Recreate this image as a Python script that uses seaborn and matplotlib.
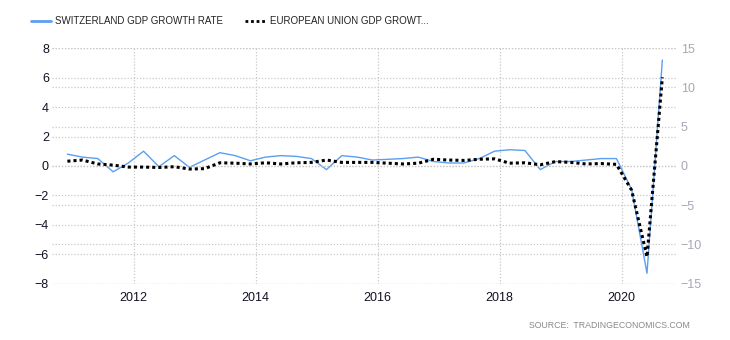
import matplotlib
matplotlib.use("Agg")
import matplotlib.pyplot as plt
import matplotlib.dates as mdates
from matplotlib.lines import Line2D
import numpy as np
import pandas as pd
import seaborn as sns

# Quarterly GDP growth, Q4 2010 .. Q3 2020
quarters = pd.period_range("2010Q4", "2020Q3", freq="Q").astype(str).tolist()
swiss_growth = [0.8, 0.6, 0.5, -0.4, 0.2, 1.0, -0.05, 0.7, -0.1, 0.4,
                0.9, 0.7, 0.35, 0.6, 0.7, 0.65, 0.5, -0.25, 0.7, 0.6,
                0.4, 0.45, 0.5, 0.6, 0.3, 0.2, 0.2, 0.5, 1.0, 1.1,
                1.05, -0.25, 0.3, 0.3, 0.4, 0.5, 0.5, -1.6, -7.3, 7.2]
eu_growth = [0.6, 0.75, 0.25, 0.1, -0.15, -0.15, -0.2, -0.1, -0.4, -0.35,
             0.4, 0.35, 0.25, 0.4, 0.25, 0.4, 0.45, 0.75, 0.45, 0.45,
             0.45, 0.35, 0.25, 0.35, 0.85, 0.75, 0.7, 0.85, 0.9, 0.35,
             0.4, 0.15, 0.55, 0.45, 0.25, 0.3, 0.2, -3.1, -11.6, 11.3]
left_ticks = [-8, -6, -4, -2, 0, 2, 4, 6, 8]
right_ticks = [-15, -10, -5, 0, 5, 10, 15]
year_ticks = [2012, 2014, 2016, 2018, 2020]

swiss_label = "SWITZERLAND GDP GROWTH RATE"
eu_label = "EUROPEAN UNION GDP GROWT..."

dates = pd.PeriodIndex(quarters, freq="Q").asfreq("M", "end").to_timestamp()
df = pd.DataFrame({"date": dates, "swiss": swiss_growth, "eu": eu_growth})

sns.set_theme(style="white")
plt.rcParams["font.family"] = ["Liberation Sans", "DejaVu Sans"]

blue = "#5b9ff0"
grid_kw = dict(color="#c8c8c8", linestyle=(0, (1, 1.5)), linewidth=0.9)

fig = plt.figure(figsize=(7.3, 3.4), dpi=100)
ax = fig.add_axes([0.0708, 0.166, 0.856, 0.692])
ax2 = ax.twinx()

sns.lineplot(data=df, x="date", y="swiss", ax=ax, color=blue, linewidth=1.0)
sns.lineplot(data=df, x="date", y="eu", ax=ax2, color="black",
             linewidth=2.2, linestyle=(0, (1, 1)))

ax.set_ylim(-8, 8)
ax.set_yticks(left_ticks)
ax2.set_ylim(-15, 15)
ax2.set_yticks(right_ticks)
ax.set_xlim(pd.Timestamp("2010-08-29"), pd.Timestamp("2020-11-25"))
ax.set_xticks([pd.Timestamp(f"{y}-01-01") for y in year_ticks])
ax.xaxis.set_major_formatter(mdates.DateFormatter("%Y"))

for a in (ax, ax2):
    a.set_xlabel("")
    a.set_ylabel("")
    for s in a.spines.values():
        s.set_visible(False)
    a.set_facecolor("none")

ax.set_axisbelow(True)
ax.grid(True, axis="both", **grid_kw)
ax2.grid(True, axis="y", **grid_kw)
ax2.grid(False, axis="x")

ax.tick_params(axis="y", length=0, pad=2, labelsize=9, labelcolor="#111122")
ax.tick_params(axis="x", length=0, pad=6, labelsize=9, labelcolor="#111122")
ax2.tick_params(axis="y", length=0, pad=3, labelsize=9, labelcolor="#aaa6b8")

handles = [Line2D([], [], color=blue, linewidth=2.0),
           Line2D([], [], color="black", linewidth=2.0, linestyle=(0, (1, 1)))]
fig.legend(handles, [swiss_label, eu_label], loc="upper left",
           bbox_to_anchor=(0.030, 0.978), ncol=2, frameon=False,
           fontsize=7, handlelength=2.1, handletextpad=0.45,
           columnspacing=2.2, labelcolor="#222222")

fig.text(0.945, 0.043, "SOURCE:  TRADINGECONOMICS.COM", ha="right",
         va="center", fontsize=6.3, color="#8a8a8a")

fig.savefig("out.png", dpi=100)
